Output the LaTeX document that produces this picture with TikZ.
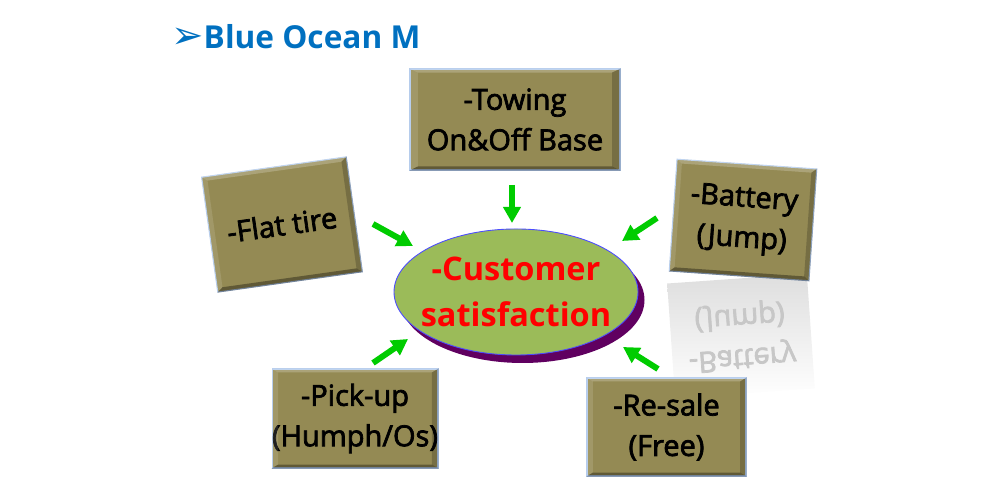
\documentclass[tikz,border=0pt]{standalone}
\usepackage{fontspec}
\setmainfont{Open Sans}
\newfontfamily\boxfont[FakeBold=2.5]{Open Sans}
\newfontfamily\symfont{DejaVu Sans}
\usetikzlibrary{calc,shapes.geometric,arrows.meta,shadows}

\definecolor{olivebox}{RGB}{148,138,84}
\definecolor{titleblue}{RGB}{0,112,192}
\definecolor{ellgreen}{RGB}{155,187,89}
\definecolor{ellpurple}{RGB}{96,0,96}
\definecolor{arrgreen}{RGB}{0,204,0}
\definecolor{glowblue}{RGB}{175,200,235}

% bevel on a box node
\newcommand{\boxbevel}[1]{%
  \fill[white,opacity=.22] (#1.north west) -- (#1.north east)
    -- ($(#1.north east)!.04!(#1.south west)$) -- ($(#1.north west)!.04!(#1.south east)$) -- cycle;
  \fill[white,opacity=.12] (#1.north west) -- (#1.south west)
    -- ($(#1.south west)!.04!(#1.north east)$) -- ($(#1.north west)!.04!(#1.south east)$) -- cycle;
  \fill[black,opacity=.35] (#1.south west) -- (#1.south east)
    -- ($(#1.south east)!.04!(#1.north west)$) -- ($(#1.south west)!.04!(#1.north east)$) -- cycle;
  \fill[black,opacity=.2] (#1.north east) -- (#1.south east)
    -- ($(#1.south east)!.04!(#1.north west)$) -- ($(#1.north east)!.04!(#1.south west)$) -- cycle;
}

\tikzset{
  box/.style={rectangle, fill=olivebox, draw=glowblue, line width=0.6pt,
    align=center, inner sep=0pt, font=\boxfont\fontsize{16.5}{23}\selectfont},
  garrow/.style={draw=arrgreen, line width=3.4pt, -{Triangle[width=0.34cm,length=0.32cm]}}
}

\begin{document}
\begin{tikzpicture}
        \useasboundingbox (0,0) rectangle (20,10);

        % title
        \node[anchor=base west, text=titleblue, font=\bfseries\fontsize{18}{22}\selectfont,
              inner sep=0pt] (title) at (3.42,9.02) {{\symfont\fontsize{22}{22}\selectfont ➢}Blue Ocean M};

        % centre ellipse
        \node[ellipse, fill=ellgreen, draw=blue!70, line width=0.5pt,
              minimum width=4.88cm, minimum height=2.52cm, inner sep=0pt,
              drop shadow={shadow xshift=0.13cm, shadow yshift=-0.16cm, fill=ellpurple, opacity=1}]
              (cs) at (10.32,4.16) {};
        \node[align=center, text=red, font=\bfseries\fontsize{18.5}{26.5}\selectfont]
              (cstext) at (cs.center) {-Customer\\satisfaction};

        % reflection under the battery box
        \node[rectangle, inner sep=0pt, minimum width=2.8cm, minimum height=2.3cm,
              top color=black!13, bottom color=white, draw=none, rotate=4, yscale=-1,
              align=center, text=black!22, font=\boxfont\fontsize{16.5}{23}\selectfont]
              (batref) at (14.82,3.28) {-Battery\\(Jump)};

        % boxes
        \node[box, minimum width=4.2cm, minimum height=2.02cm] (tow) at (10.30,7.61) {-Towing\\On\&Off Base};
        \node[box, minimum width=2.92cm, minimum height=2.32cm, rotate=8] (flat) at (5.64,5.51) {-Flat tire};
        \node[box, minimum width=2.8cm, minimum height=2.24cm, rotate=-4] (bat) at (14.86,5.60) {-Battery\\(Jump)};
        \node[box, minimum width=3.28cm, minimum height=1.98cm] (pick) at (7.10,1.63) {-Pick-up\\(Humph/Os)};
        \node[box, minimum width=3.18cm, minimum height=1.96cm] (sale) at (13.33,1.46) {-Re-sale\\(Free)};
        \foreach \b in {tow,flat,bat,pick,sale} {\boxbevel{\b}}

        % arrow ends
        \coordinate (towA) at (10.24,6.30);  \coordinate (towB) at (10.24,5.54);
        \coordinate (flatA) at (7.46,5.52);  \coordinate (flatB) at (8.26,5.08);
        \coordinate (batA) at (13.14,5.64);  \coordinate (batB) at (12.44,5.18);
        \coordinate (pickA) at (7.46,2.74);  \coordinate (pickB) at (8.16,3.22);
        \coordinate (saleA) at (13.16,2.62); \coordinate (saleB) at (12.46,3.06);

        % arrows into the ellipse
        \foreach \a in {tow,flat,bat,pick,sale}
          \draw[garrow] (\a A) -- (\a B);
    \end{tikzpicture}
\end{document}
